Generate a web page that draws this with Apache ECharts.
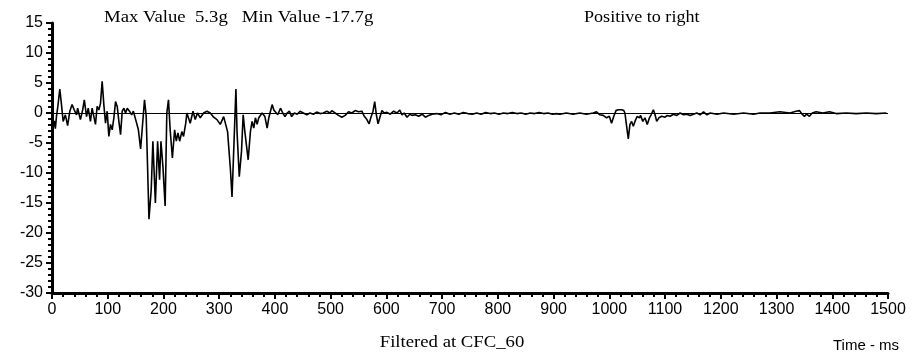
<!DOCTYPE html>
<html>
<head>
<meta charset="utf-8">
<script src="https://cdn.jsdelivr.net/npm/echarts@6/dist/echarts.min.js"></script>
<style>
html,body{margin:0;padding:0;background:#fff;}
#chart{width:913px;height:358px;}
</style>
</head>
<body>
<div id="chart"></div>
<script>
// Time axis (ms) and acceleration (g)
const timeMs = [0,2,4,6,8,10.5,14,17,20,24,28,32,36,40,44,46,51,55,58,62,65,69,72,75,78,81,84,87,90,93,96,99,102,105,108,111,114,117,120,123,126,129,132,135,139,143,146,151,155,159,166,169,174,178,181,185.5,189.5,193,195.5,199,203,206,209,212,216,220,223,226,229,233,236,240,242,245,248,253,257,261,266,272,278,284,290,296,302,308,311,315,320,323,326,330,332,336,340,343,346,349,352,356,359,362,365,368,371,374,377,380,382,386,389,392,395,398,401,405,410,414,418,422,426,430,435,440,445,451,457,463,469,475,481,487,493,499,502,508,514,520,526,532,538,544,550,556,560,565,569,572,576,579,582,585,589,592,596,601,607,613,619,624,628,632,637,642,646,652,658,664,670,676,682,690,698,706,714,722,730,738,746,754,762,770,778,786,794,802,810,818,826,834,842,850,858,866,874,882,890,898,905,911,923,935,947,959,971,977,983,989,995,1000,1004,1008,1012,1016,1022,1026,1028,1031,1034,1037,1040,1043,1046,1050,1054,1056,1060,1064,1068,1072,1075,1079,1082,1085,1089,1094,1100,1104,1109,1115,1121,1127,1133,1139,1145,1151,1157,1163,1169,1175,1181,1193,1205,1223,1241,1259,1270,1288,1306,1324,1335,1341,1346,1350,1354,1359,1364,1371,1383,1395,1407,1425,1443,1461,1479,1497];
const accelG = [0,-2.4,-1.3,-2.6,-0.6,1.1,4.0,1.4,-1.4,-0.3,-2.1,0.3,1.4,0.5,-0.3,0.8,-1.1,0.5,2.2,-0.6,0.8,-1.4,0.8,1.1,-1.9,1.1,0.5,1.6,5.3,1.4,-1.7,0.3,-3.9,-1.9,-2.8,-0.8,1.9,1.1,-1.4,-3.6,0.3,0.8,0,0.8,0.3,-0.3,0.3,-1.4,-2.8,-6.0,2.2,-0.5,-17.7,-12.8,-4.7,-15,-4.7,-11.1,-4.7,-8.9,-15.5,0,2.2,-2.8,-7.5,-2.8,-4.7,-3.3,-4.7,-3.1,-3.9,-1.7,0,0.3,-1.7,0.3,-1.1,0,-0.8,0,0.3,0,-0.7,-1.1,-1.9,-0.6,-0.8,-3.1,-9.2,-14.0,-6.4,4.0,-3.1,-10.6,-6.4,-0.3,-3.1,-3.1,-7.8,-3.1,-1.4,-2.5,-0.8,-1.9,-0.8,-1.1,0,0.3,-0.6,-2.5,-0.8,0.3,1.4,0.5,0.8,-0.3,0.8,0,-0.6,0,0.3,-0.6,0,-0.2,0.3,0,-0.3,0,-0.2,0.15,-0.1,0,0.3,0,0.4,0,-0.4,-0.7,-0.4,0.2,0,0.4,0.2,0.3,-0.5,-1.1,-1.8,-0.8,0.3,1.9,-0.3,-1.8,-0.5,0.4,0,0.1,-0.2,0.3,0,0.5,-0.3,0,-0.7,-0.2,-0.4,-0.3,-0.55,-0.2,-0.7,-0.4,-0.2,-0.1,-0.3,0.1,-0.2,0,-0.2,0.1,-0.1,-0.2,0,-0.2,0.1,-0.1,0,-0.2,0,-0.1,0.1,-0.1,0,-0.2,0,-0.1,0.1,-0.1,0,-0.2,-0.1,-0.2,0,-0.2,0,-0.2,0,0.2,-0.3,-0.4,-0.8,-0.55,-1.7,-0.55,0.4,0.55,0.55,0.4,0,-2.2,-4.3,-1.9,-1.4,-2.2,-1.4,-0.55,-0.8,-0.4,-1.4,-0.8,-1.9,-0.8,-0.3,0.55,-0.3,-1.4,-0.8,-0.55,-0.7,-0.4,-0.55,-0.2,-0.4,0,-0.3,-0.2,-0.4,-0.2,0,-0.3,0.2,-0.3,0,-0.2,0,-0.2,0,-0.2,0,0,0.2,0,0.3,0.4,-0.2,-0.55,-0.2,-0.55,0,0.2,0,0.2,-0.1,0,-0.1,0,-0.1,0];
const xTicks = {min: 0, max: 1500, step: 100};
const yTicks = {min: -30, max: 15, step: 5};
const headerLeft = 'Max Value  5.3g   Min Value -17.7g';
const headerRight = 'Positive to right';
const footerCenter = 'Filtered at CFC_60';
const xAxisTitle = 'Time - ms';

const seriesData = timeMs.map((t, i) => [t, accelG[i]]);
const tickFont = "'Liberation Sans', Arial, sans-serif";
const serifFont = "'Liberation Serif', 'Times New Roman', serif";

const chart = echarts.init(document.getElementById('chart'), null, {renderer: 'canvas'});
const axisCommon = {
  axisLine: {show: true, onZero: false, lineStyle: {color: '#000', width: 3}},
  axisTick: {show: true, length: 6, lineStyle: {color: '#000', width: 2}},
  minorTick: {show: true, splitNumber: 5, length: 4, lineStyle: {color: '#000', width: 2}},
  splitLine: {show: false},
  minorSplitLine: {show: false},
  axisLabel: {color: '#000', fontSize: 16, fontFamily: tickFont, margin: 9, formatter: v => String(v)}
};
chart.setOption({
  animation: false,
  backgroundColor: '#fff',
  grid: {left: 52, right: 25, top: 23, bottom: 65},
  xAxis: Object.assign({type: 'value', min: xTicks.min, max: xTicks.max, interval: xTicks.step}, axisCommon),
  yAxis: Object.assign({type: 'value', min: yTicks.min, max: yTicks.max, interval: yTicks.step}, axisCommon),
  series: [{
    type: 'line',
    data: seriesData,
    showSymbol: false,
    symbol: 'none',
    lineStyle: {color: '#000', width: 1.6},
    z: 3,
    markLine: {
      silent: true,
      symbol: 'none',
      label: {show: false},
      lineStyle: {color: '#000', width: 1, type: 'solid'},
      data: [{yAxis: 0}],
      z: 2
    }
  }],
  graphic: [
    {type: 'text', x: 104, y: 10, scaleX: 1.17, style: {text: headerLeft, font: "16px " + serifFont, fill: '#000'}},
    {type: 'text', x: 584, y: 10, scaleX: 1.13, style: {text: headerRight, font: "16px " + serifFont, fill: '#000'}},
    {type: 'text', x: 452, y: 343, scaleX: 1.17, style: {text: footerCenter, font: "16px " + serifFont, fill: '#000', align: 'center', verticalAlign: 'middle'}},
    {type: 'text', x: 833, y: 346, style: {text: xAxisTitle, font: "15px " + tickFont, fill: '#000', verticalAlign: 'middle'}}
  ]
});
</script>
</body>
</html>
